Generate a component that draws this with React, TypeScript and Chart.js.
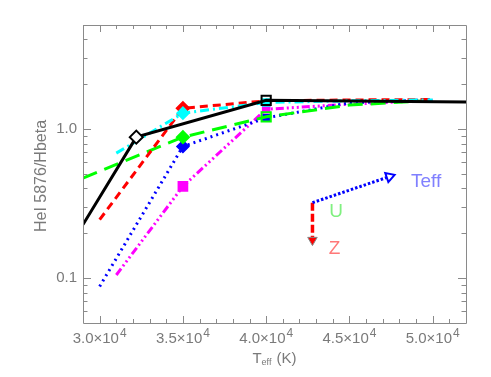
import React, { useEffect, useRef } from 'react';
import { Chart, registerables } from 'chart.js';

Chart.register(...registerables);

// ---- axes ----
const X_MIN = 29000;
const X_MAX = 52000;
const Y_MIN = 0.05;
const Y_MAX = 5;
const X_TICKS = [30000, 35000, 40000, 45000, 50000];
const X_TICK_MANTISSAS = ['3.0×10', '3.5×10', '4.0×10', '4.5×10', '5.0×10'];
const X_TICK_EXPONENTS = ['4', '4', '4', '4', '4'];
const X_MINOR_TICKS = [29000, 31000, 32000, 33000, 34000, 36000, 37000, 38000, 39000, 41000, 42000, 43000, 44000, 46000, 47000, 48000, 49000, 51000];
const Y_TICKS = [0.1, 1];
const Y_TICK_LABELS = ['0.1', '1.0'];
const Y_MINOR_TICKS = [0.06, 0.07, 0.08, 0.09, 0.2, 0.3, 0.4, 0.5, 0.6, 0.7, 0.8, 0.9, 2, 3, 4];
const X_TITLE_MAIN = 'T';
const X_TITLE_SUB = 'eff';
const X_TITLE_TAIL = ' (K)';
const Y_TITLE = 'HeI 5876/Hbeta';

// ---- series ----
const BLACK_T = [29000, 32200, 40000, 52000];
const BLACK_V = [0.229, 0.884, 1.56, 1.52];
const RED_T = [30000, 35000, 40000, 45000, 50000];
const RED_V = [0.247, 1.38, 1.55, 1.57, 1.58];
const CYAN_T = [31000, 35000, 40000, 45000, 50000];
const CYAN_V = [0.69, 1.28, 1.51, 1.55, 1.57];
const GREEN_T = [29000, 35000, 40000, 45000, 50000];
const GREEN_V = [0.47, 0.884, 1.21, 1.45, 1.56];
const BLUE_T = [30000, 35000, 40000, 45000, 50000];
const BLUE_V = [0.088, 0.765, 1.19, 1.5, 1.58];
const MAGENTA_T = [31000, 35000, 40000, 45000, 50000];
const MAGENTA_V = [0.105, 0.413, 1.36, 1.47, 1.56];

// ---- direction arrows (data coordinates) ----
const ARROW_ORIGIN = { x: 42780, y: 0.321 };
const ARROW_TEFF_END = { x: 47400, y: 0.48 };
const ARROW_Z_END = { x: 42780, y: 0.18 };
const LABEL_TEFF = { text: 'Teff', x: 48700, y: 0.445 };
const LABEL_U = { text: 'U', x: 44200, y: 0.28 };
const LABEL_Z = { text: 'Z', x: 44100, y: 0.157 };

const pts = (t: number[], v: number[]) => t.map((x, i) => ({ x, y: v[i] }));

const TICK_COLOR = '#8a8a8a';
const TEXT_COLOR = '#7a7a7a';
const FONT = '"Liberation Sans", "DejaVu Sans", sans-serif';

const framePlugin = {
  id: 'frame',
  afterDraw(chart: any) {
    const { ctx, chartArea: a, scales } = chart;
    const xs = scales.x;
    const ys = scales.y;
    ctx.save();
    ctx.strokeStyle = TICK_COLOR;
    ctx.lineWidth = 1;
    ctx.beginPath();
    ctx.rect(Math.round(a.left) + 0.5, Math.round(a.top) + 0.5, Math.round(a.right - a.left), Math.round(a.bottom - a.top));
    ctx.stroke();
    const tickX = (v: number, len: number) => {
      const px = Math.round(xs.getPixelForValue(v)) + 0.5;
      ctx.beginPath();
      ctx.moveTo(px, a.bottom);
      ctx.lineTo(px, a.bottom - len);
      ctx.moveTo(px, a.top);
      ctx.lineTo(px, a.top + len);
      ctx.stroke();
    };
    const tickY = (v: number, len: number) => {
      const py = Math.round(ys.getPixelForValue(v)) + 0.5;
      ctx.beginPath();
      ctx.moveTo(a.left, py);
      ctx.lineTo(a.left + len, py);
      ctx.moveTo(a.right, py);
      ctx.lineTo(a.right - len, py);
      ctx.stroke();
    };
    X_TICKS.forEach((v) => tickX(v, 7));
    X_MINOR_TICKS.forEach((v) => tickX(v, 4));
    Y_TICKS.forEach((v) => tickY(v, 8));
    Y_MINOR_TICKS.forEach((v) => tickY(v, 4.5));

    ctx.fillStyle = TEXT_COLOR;

    // x tick labels with superscript exponent
    ctx.textBaseline = 'alphabetic';
    ctx.textAlign = 'left';
    X_TICKS.forEach((v, i) => {
      ctx.font = `15px ${FONT}`;
      const wm = ctx.measureText(X_TICK_MANTISSAS[i]).width;
      ctx.font = `12px ${FONT}`;
      const we = ctx.measureText(X_TICK_EXPONENTS[i]).width;
      const cx = xs.getPixelForValue(v);
      const left = cx - (wm + 1 + we) / 2;
      const base = a.bottom + 20;
      ctx.font = `15px ${FONT}`;
      ctx.fillText(X_TICK_MANTISSAS[i], left, base);
      ctx.font = `12px ${FONT}`;
      ctx.fillText(X_TICK_EXPONENTS[i], left + wm + 1, base - 6);
    });

    // axis titles
    ctx.textBaseline = 'middle';
    ctx.font = `15px ${FONT}`;
    const wMain = ctx.measureText(X_TITLE_MAIN).width;
    const wTail = ctx.measureText(X_TITLE_TAIL).width;
    ctx.font = `9px ${FONT}`;
    const wSub = ctx.measureText(X_TITLE_SUB).width;
    const total = wMain + wSub + 1 + wTail;
    const x0 = (a.left + a.right) / 2 - total / 2;
    const yT = 359;
    ctx.textAlign = 'left';
    ctx.font = `15px ${FONT}`;
    ctx.fillText(X_TITLE_MAIN, x0, yT);
    ctx.font = `9px ${FONT}`;
    ctx.fillText(X_TITLE_SUB, x0 + wMain, yT + 4);
    ctx.font = `15px ${FONT}`;
    ctx.fillText(X_TITLE_TAIL, x0 + wMain + wSub + 1, yT);

    ctx.save();
    ctx.translate(42, (a.top + a.bottom) / 2 + 2);
    ctx.rotate(-Math.PI / 2);
    ctx.textAlign = 'center';
    ctx.font = `16px ${FONT}`;
    ctx.fillText(Y_TITLE, 0, 0);
    ctx.restore();

    // arrow labels
    ctx.font = `19px ${FONT}`;
    ctx.textAlign = 'left';
    ctx.fillStyle = '#8080ff';
    ctx.fillText(LABEL_TEFF.text, xs.getPixelForValue(LABEL_TEFF.x), ys.getPixelForValue(LABEL_TEFF.y));
    ctx.textAlign = 'center';
    ctx.fillStyle = '#80f080';
    ctx.fillText(LABEL_U.text, xs.getPixelForValue(LABEL_U.x), ys.getPixelForValue(LABEL_U.y));
    ctx.fillStyle = '#ff7878';
    ctx.fillText(LABEL_Z.text, xs.getPixelForValue(LABEL_Z.x), ys.getPixelForValue(LABEL_Z.y));
    ctx.restore();
  },
};

export default function App() {
  const ref = useRef<HTMLCanvasElement | null>(null);
  useEffect(() => {
    if (!ref.current) return;
    const line = (label: string, data: any[], color: string, dash: number[], width: number, extra: any = {}) => ({
      type: 'scatter',
      label,
      data,
      showLine: true,
      borderColor: color,
      backgroundColor: color,
      borderWidth: width,
      borderDash: dash,
      pointRadius: 0,
      pointBorderWidth: 1.5,
      ...extra,
    });
    const chart = new Chart(ref.current, {
      type: 'scatter',
      data: {
        datasets: [
          line('black', pts(BLACK_T, BLACK_V), '#000000', [], 3, {
            pointRadius: [0, 6.5, 6.5, 0],
            pointStyle: ['circle', 'rectRot', 'rect', 'circle'],
            pointBackgroundColor: ['#ffffff', '#ffffff', 'rgba(0,0,0,0)', '#ffffff'],
            pointBorderColor: '#000000',
            pointBorderWidth: 2,
          }),
          line('cyan', pts(CYAN_T, CYAN_V), '#00ffff', [9, 4, 2, 4], 3, {
            pointRadius: [0, 6, 5, 0, 0],
            pointStyle: ['circle', 'rectRot', 'rect', 'circle', 'circle'],
          }),
          line('red', pts(RED_T, RED_V), '#ff0000', [8, 5], 3, {
            pointRadius: [0, 6.5, 0, 0, 0],
            pointStyle: 'rectRot',
          }),
          line('green', pts(GREEN_T, GREEN_V), '#00ff00', [15, 8], 3, {
            pointRadius: [0, 6, 6.5, 0, 0],
            pointStyle: ['circle', 'rectRot', 'rect', 'circle', 'circle'],
            pointBackgroundColor: ['#00ff00', '#00ff00', 'rgba(0,0,0,0)', '#00ff00', '#00ff00'],
            pointBorderWidth: 2,
          }),
          line('blue', pts(BLUE_T, BLUE_V), '#0000ff', [2, 4], 3, {
            pointRadius: [0, 6, 4.5, 0, 0],
            pointStyle: ['circle', 'rectRot', 'rect', 'circle', 'circle'],
          }),
          line('magenta', pts(MAGENTA_T, MAGENTA_V), '#ff00ff', [8, 3, 2, 3, 2, 3, 2, 3], 3, {
            pointRadius: [0, 6.5, 5, 0, 0],
            pointStyle: 'rect',
          }),
          line('teff-arrow', [ARROW_ORIGIN, ARROW_TEFF_END], '#0000ff', [2.5, 2], 3, {
            pointRadius: [0, 5.5],
            pointStyle: 'triangle',
            pointRotation: 71,
            pointBackgroundColor: '#ffffff',
            pointBorderColor: '#0000ff',
            pointBorderWidth: 2,
          }),
          line('z-arrow', [ARROW_ORIGIN, ARROW_Z_END], '#ff0000', [8, 3], 3.5, {
            pointRadius: [0, 5.5],
            pointStyle: 'triangle',
            pointRotation: 180,
            pointBackgroundColor: '#ff0000',
            pointBorderColor: '#888888',
            pointBorderWidth: 1,
          }),
        ] as any,
      },
      options: {
        animation: false,
        responsive: false,
        devicePixelRatio: 1,
        layout: { padding: { top: 25, right: 25, left: 0, bottom: 0 } },
        plugins: { legend: { display: false }, tooltip: { enabled: false } },
        scales: {
          x: {
            type: 'linear',
            min: X_MIN,
            max: X_MAX,
            grid: { display: false, drawTicks: false },
            border: { display: false },
            afterBuildTicks: (s: any) => {
              s.ticks = X_TICKS.map((value) => ({ value }));
            },
            afterFit: (s: any) => {
              s.height = 54;
            },
            ticks: { display: false },
          },
          y: {
            type: 'logarithmic',
            min: Y_MIN,
            max: Y_MAX,
            grid: { display: false, drawTicks: false },
            border: { display: false },
            afterBuildTicks: (s: any) => {
              s.ticks = Y_TICKS.map((value) => ({ value }));
            },
            afterFit: (s: any) => {
              s.width = 83;
            },
            ticks: {
              autoSkip: false,
              padding: 6,
              color: TEXT_COLOR,
              font: { family: FONT, size: 15 },
              callback: (v: any) => {
                const i = Y_TICKS.findIndex((t) => Math.abs(t - Number(v)) < 1e-9);
                return i >= 0 ? Y_TICK_LABELS[i] : '';
              },
            },
          },
        },
      } as any,
      plugins: [framePlugin],
    });
    return () => chart.destroy();
  }, []);
  return (
    <div style={{ position: 'absolute', left: 0, top: 0, width: 491, height: 377, background: '#fff' }}>
      <canvas ref={ref} width={491} height={377} />
    </div>
  );
}
